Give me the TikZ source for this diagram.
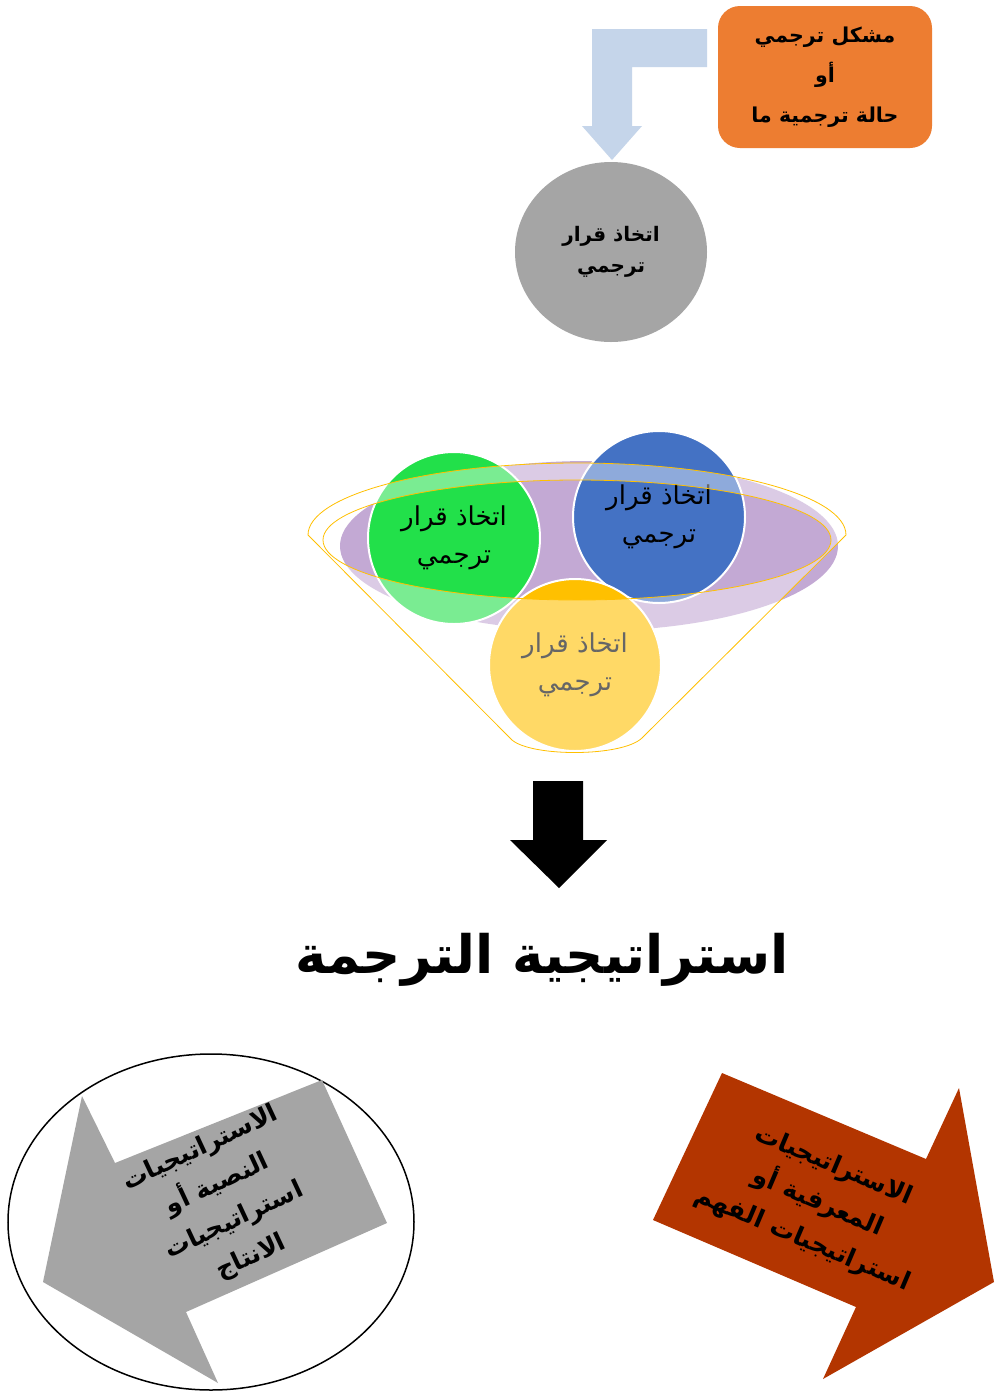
\documentclass[tikz,border=0pt]{standalone}
\usepackage{fontspec}
\newfontfamily\arabicfont[Script=Arabic]{DejaVu Sans}
\TeXXeTstate=1
\usetikzlibrary{shapes.geometric}
\definecolor{orangeC}{HTML}{ED7D31}
\definecolor{lightblueC}{HTML}{C5D5EA}
\definecolor{grayC}{HTML}{A5A5A5}
\definecolor{greenC}{HTML}{22E04A}
\definecolor{blueC}{HTML}{4472C4}
\definecolor{purpleC}{HTML}{C3A9D4}
\definecolor{yellowC}{HTML}{FFC000}
\definecolor{redC}{HTML}{B33500}
\tikzset{
  bubble/.style={circle, draw=white, line width=2pt, minimum size=172pt, inner sep=0pt, align=center,
    font=\arabicfont\fontsize{26}{38}\selectfont},
  funnelline/.style={draw=yellowC, line width=0.8pt},
  bigarrowtext/.style={align=center, inner sep=0pt, font=\arabicfont\bfseries\fontsize{25}{40}\selectfont}
}
\begin{document}
\begin{tikzpicture}[x=1pt,y=-1pt]
\useasboundingbox (0,0) rectangle (994,1393);
\fill[white] (0,0) rectangle (994,1393);

% problem box
\node[rectangle, rounded corners=22pt, fill=orangeC, minimum width=214pt, minimum height=142pt,
  align=center, inner sep=0pt, font=\arabicfont\bfseries\fontsize{20.5}{40}\selectfont] (prob) at (825,77)
  {\beginR مشكل ترجمي\endR\\\beginR أو\endR\\\beginR حالة ترجمية ما\endR};

% bent arrow
\fill[lightblueC] (707,29) -- (592,29) -- (592,126) -- (582,126) -- (612,160) -- (642,126)
  -- (632,126) -- (632,67) -- (707,67) -- cycle;

% decision ellipse
\node[ellipse, fill=grayC, minimum width=192pt, minimum height=180pt, inner sep=0pt, align=center,
  font=\arabicfont\bfseries\fontsize{20}{31}\selectfont] (dec) at (611,252)
  {\beginR اتخاذ قرار\endR\\\beginR ترجمي\endR};

% funnel
\fill[purpleC] (589,546) ellipse [x radius=249pt, y radius=85pt];
\node[bubble, fill=greenC] (g) at (454,538) {\beginR اتخاذ قرار\endR\\\beginR ترجمي\endR};
\node[bubble, fill=blueC] (b) at (659,517) {\beginR اتخاذ قرار\endR\\\beginR ترجمي\endR};
\node[bubble, fill=yellowC] (y) at (575,665) {\beginR اتخاذ قرار\endR\\\beginR ترجمي\endR};
\fill[white, fill opacity=0.4, even odd rule]
  (308,535) arc[start angle=180, end angle=0, x radius=269pt, y radius=72pt]
  -- (642,738) .. controls (622,757) and (532,757) .. (512,740) -- cycle
  (577,540) ellipse [x radius=254pt, y radius=60pt];
\draw[funnelline]
  (308,535) arc[start angle=180, end angle=0, x radius=269pt, y radius=72pt]
  -- (642,738) .. controls (622,757) and (532,757) .. (512,740) -- cycle;
\draw[funnelline] (577,540) ellipse [x radius=254pt, y radius=60pt];

% black down arrow
\fill[black] (533,781) -- (583,781) -- (583,840) -- (607,840) -- (559,888) -- (510,840) -- (533,840) -- cycle;

% title
\node[font=\arabicfont\bfseries\fontsize{53}{60}\selectfont] (title) at (542,960)
  {\beginR استراتيجية الترجمة\endR};

% left: circled gray arrow
\draw[black, line width=1.5pt] (211,1222) ellipse [x radius=203pt, y radius=168pt];
\fill[grayC] (322,1080) -- (387,1223) -- (186,1312) -- (218,1383) -- (43,1282) -- (82,1096) -- (115,1163) -- cycle;
\node[bigarrowtext, rotate=25] (lt) at (226,1203)
  {\beginR الاستراتيجيات\endR\\\beginR النصية أو\endR\\\beginR استراتيجيات\endR\\\beginR الانتاج\endR};

% right: red arrow
\fill[redC] (722,1073) -- (926,1159) -- (959,1088) -- (994,1282) -- (823,1379) -- (856,1307) -- (653,1220) -- cycle;
\node[bigarrowtext, rotate=-23] (rt) at (818,1203)
  {\beginR الاستراتيجيات\endR\\\beginR المعرفية أو\endR\\\beginR استراتيجيات الفهم\endR};
\end{tikzpicture}
\end{document}
